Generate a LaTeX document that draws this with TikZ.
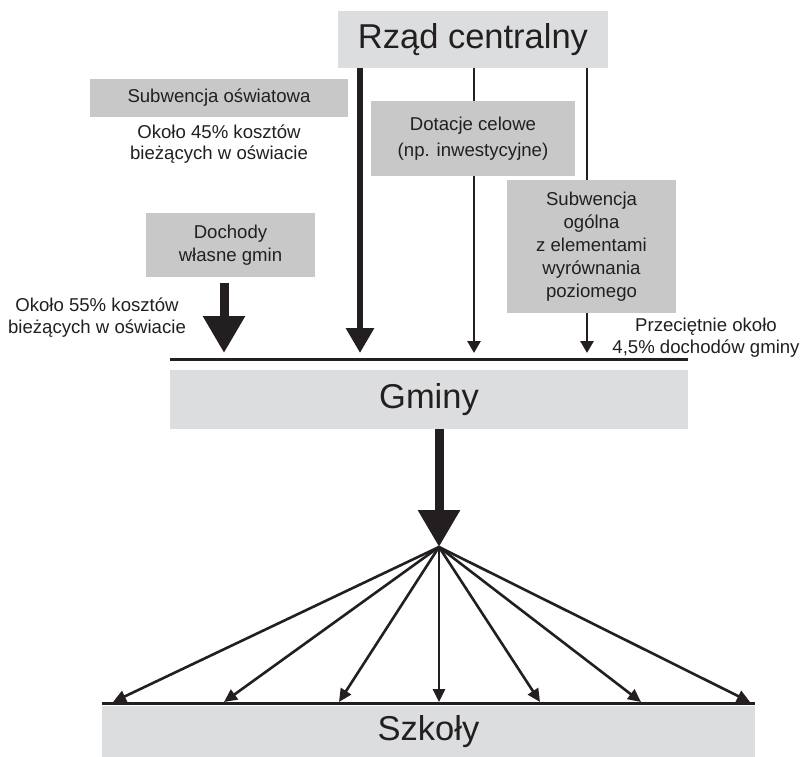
\documentclass[tikz,border=0pt]{standalone}
\usepackage{fontspec}
\setmainfont{Liberation Sans}
\usetikzlibrary{positioning, arrows.meta}
\definecolor{inkgray}{HTML}{231F20}
\definecolor{boxgray}{HTML}{DCDDDE}
\definecolor{midgray}{HTML}{C8C8C9}

\begin{document}
\begin{tikzpicture}
    [
        x=1pt, y=-1pt, on grid, inner sep=0pt, text=inkgray,
        big_node/.style={rectangle, fill=boxgray, font=\fontsize{34.5}{40}\selectfont},
        small_node/.style={rectangle, fill=midgray, align=center, font=\fontsize{18.6}{23}\selectfont},
        note_node/.style={align=center, font=\fontsize{18.6}{21.5}\selectfont},
        thin_arrow/.style={-{Triangle[length=12pt, width=13pt]}, line width=2.8pt, color=inkgray},
        fan_arrow/.style={-{Triangle[length=13pt, width=12pt]}, line width=2.6pt, color=inkgray},
        mid_arrow/.style={-{Triangle[length=25pt, width=27pt]}, line width=6pt, color=inkgray},
        fat_arrow/.style={-{Triangle[length=37pt, width=40pt]}, line width=9pt, color=inkgray},
    ]
        \useasboundingbox (0,0) rectangle (803,757) ;
        \node[big_node, minimum width=270pt, minimum height=57pt] (rzad) at (473,39.5) {Rząd centralny} ;
        \coordinate (in_own) at (224,353) ;
        \coordinate (in_edu) at (360,353) ;
        \coordinate (in_grants) at (474,353) ;
        \coordinate (in_general) at (587,353) ;
        \coordinate (fan) at (439,547) ;
        \draw[mid_arrow] (rzad.south -| in_edu) to (in_edu) ;
        \draw[thin_arrow] (rzad.south -| in_grants) to (in_grants) ;
        \draw[thin_arrow] (rzad.south -| in_general) to (in_general) ;
        \node[small_node, minimum width=258pt, minimum height=38pt] (sub_edu) at (219,98) {Subwencja oświatowa} ;
        \node[note_node] (share_edu) [below = 46pt of sub_edu] {Około 45\% kosztów\\bieżących w oświacie} ;
        \node[small_node, minimum width=204pt, minimum height=75pt, font=\fontsize{18.6}{26}\selectfont] (grants) at (473,138.5) {Dotacje celowe\\(np. inwestycyjne)} ;
        \node[small_node, minimum width=169pt, minimum height=133pt] (sub_gen) at (591.5,246.5) {Subwencja\\ogólna\\z elementami\\wyrównania\\poziomego} ;
        \node[small_node, minimum width=169pt, minimum height=64pt] (own) at (230.5,245) {Dochody\\własne gmin} ;
        \node[note_node] (share_own) at (97,317.5) {Około 55\% kosztów\\bieżących w oświacie} ;
        \node[note_node] (share_gen) at (706,337.5) {Przeciętnie około\\4,5\% dochodów gminy} ;
        \draw[fat_arrow] ([yshift=-6pt]own.south -| in_own) to (in_own) ;
        \node[big_node, minimum width=518pt, minimum height=59pt] (gminy) at (429,399.5) {Gminy} ;
        \node[big_node, minimum width=653pt, minimum height=51pt] (szkoly) at (428.5,731.5) {Szkoły} ;
        \draw[line width=3pt, color=inkgray] ([yshift=10pt]gminy.north west) to ([yshift=10pt]gminy.north east) ;
        \draw[line width=3pt, color=inkgray] ([yshift=2pt]szkoly.north west) to ([yshift=2pt]szkoly.north east) ;
        \draw[fat_arrow] (gminy.south -| fan) to (fan) ;
        \foreach \tipx [count=\i] in {113,224,339,439,540,641,750}
        {
            \coordinate (school\i) at (\tipx,702) ;
            \draw[fan_arrow] (fan) to (school\i) ;
        }
    \end{tikzpicture}
\end{document}
